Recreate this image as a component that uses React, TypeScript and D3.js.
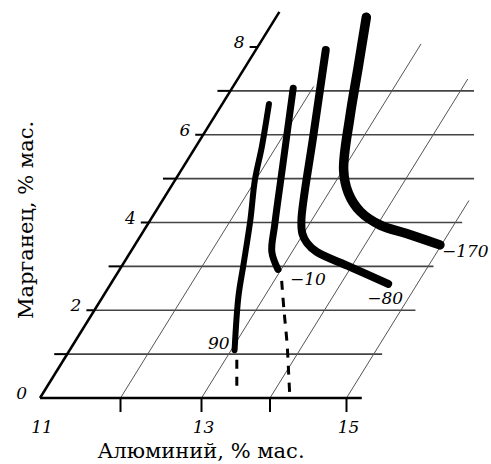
import React from "react";
import * as d3 from "d3";

// oblique Al–Mn diagram, isotherms in °C
const alTicks = [11, 12, 13, 14, 15];
const alLabels = [11, 13, 15];
const mnTicks = [0, 1, 2, 3, 4, 5, 6, 7, 8];
const mnLabels = [0, 2, 4, 6, 8];

// right end (Al) of each horizontal grid line, Mn = 1..7
const gridMn = [1, 2, 3, 4, 5, 6, 7];
const gridEndAl = [15.11, 15.19, 15.07, 15.09, 15.1, 15.1, 15.1];
// top end (Mn) of each slanted grid line, Al = 12..15
const slantAl = [12, 13, 14, 15];
const slantTopMn = [7.1, 8.07, 7.27, 4.5];

const iso90Al = [13.05, 12.68, 12.49, 12.24, 11.99, 11.82, 11.58];
const iso90Mn = [1.09, 2.31, 3.07, 4.06, 4.97, 5.73, 6.7];
const iso90DashAl = [13.17, 13.46];
const iso90DashMn = [0.87, 0.14];

const iso10Al = [12.96, 12.75, 12.58, 12.21, 11.91, 11.76];
const iso10Mn = [2.93, 3.33, 3.94, 5.35, 6.49, 7.06];
const iso10DashAl = [13.11, 13.41, 13.77, 14.06, 14.26];
const iso10DashMn = [2.67, 2.0, 1.21, 0.52, 0.0];

const iso80Al = [11.87, 12.37, 12.87, 12.99, 13.14, 13.36, 13.98, 14.62];
const iso80Mn = [7.93, 5.99, 4.06, 3.74, 3.53, 3.33, 2.99, 2.6];

const iso170Al = [12.12, 12.4, 12.68, 13.01, 13.29, 13.63, 14.04, 14.45, 14.98];
const iso170Mn = [8.68, 7.55, 6.41, 5.2, 4.67, 4.25, 3.94, 3.75, 3.49];

const W = 491;
const H = 464;
const SLANT = 0.62;
const FONT = "'DejaVu Serif', 'Liberation Serif', serif";

const xs = d3.scaleLinear().domain([11, 12, 13, 14, 15]).range([40, 120.5, 201.5, 270, 346.5]);
const ys = d3.scaleLinear().domain([0, 8]).range([398, 47]);

const px = (al: number, mn: number) => xs(al) + (ys(0) - ys(mn)) * SLANT;
const py = (mn: number) => ys(mn);

const zip = (a: number[], m: number[]) => a.map((v, i) => [v, m[i]] as [number, number]);

const line = d3
  .line<[number, number]>()
  .x((d) => px(d[0], d[1]))
  .y((d) => py(d[1]))
  .curve(d3.curveCatmullRom.alpha(0.5));

const straight = d3
  .line<[number, number]>()
  .x((d) => px(d[0], d[1]))
  .y((d) => py(d[1]));

export default function App() {
  const isotherms = [
    { pts: zip(iso90Al, iso90Mn), w: 6 },
    { pts: zip(iso10Al, iso10Mn), w: 7 },
    { pts: zip(iso80Al, iso80Mn), w: 8 },
    { pts: zip(iso170Al, iso170Mn), w: 9.5 },
  ];
  const end90 = [px(iso90Al[0], iso90Mn[0]), py(iso90Mn[0])];
  const end10 = [px(iso10Al[0], iso10Mn[0]), py(iso10Mn[0])];
  const end80 = [px(iso80Al[7], iso80Mn[7]), py(iso80Mn[7])];
  const end170 = [px(iso170Al[8], iso170Mn[8]), py(iso170Mn[8])];

  return (
    <svg width={W} height={H} style={{ position: "absolute", left: 0, top: 0, background: "#fff" }}>
      <defs>
        <clipPath id="clip">
          <rect x={0} y={0} width={474} height={H} />
        </clipPath>
      </defs>

      <g clipPath="url(#clip)">
        {gridMn.map((m, i) => (
          <line
            key={"h" + m}
            x1={px(11, m)}
            x2={px(gridEndAl[i], m)}
            y1={py(m)}
            y2={py(m)}
            stroke="#444"
            strokeWidth={1.6}
          />
        ))}
        {slantAl.map((a, i) => (
          <line
            key={"s" + a}
            x1={px(a, 0)}
            y1={py(0)}
            x2={px(a, slantTopMn[i])}
            y2={py(slantTopMn[i])}
            stroke="#555"
            strokeWidth={1}
          />
        ))}
      </g>

      {/* axes */}
      <line x1={px(11, 0)} y1={py(0)} x2={px(15.2, 0)} y2={py(0)} stroke="#000" strokeWidth={2.5} />
      <line x1={px(11, 0)} y1={py(0)} x2={px(11, 8.8)} y2={py(8.8)} stroke="#000" strokeWidth={2.5} />

      {alTicks.slice(1).map((a) => (
        <line key={"xt" + a} x1={xs(a)} x2={xs(a)} y1={ys(0)} y2={ys(0) + 14} stroke="#000" strokeWidth={2} />
      ))}
      {alLabels.map((a) => (
        <text
          key={"xl" + a}
          x={xs(a) + 2}
          y={ys(0) + 35}
          textAnchor="middle"
          fontFamily={FONT}
          fontStyle="italic"
          fontSize={17}
        >
          {a}
        </text>
      ))}

      {mnTicks.slice(1).map((m) => (
        <line
          key={"yt" + m}
          x1={px(11, m) - (m % 2 ? 13 : 8)}
          x2={px(11, m)}
          y1={py(m)}
          y2={py(m)}
          stroke="#000"
          strokeWidth={2}
        />
      ))}
      {mnLabels.map((m) => (
        <text
          key={"yl" + m}
          x={px(11, m) - 13}
          y={py(m) + 1}
          textAnchor="end"
          fontFamily={FONT}
          fontStyle="italic"
          fontSize={17}
        >
          {m}
        </text>
      ))}

      {/* isotherms */}
      {isotherms.map((c, i) => (
        <path
          key={"c" + i}
          d={line(c.pts) || ""}
          fill="none"
          stroke="#000"
          strokeWidth={c.w}
          strokeLinecap="round"
          strokeLinejoin="round"
        />
      ))}
      <path
        d={straight(zip(iso90DashAl, iso90DashMn)) || ""}
        fill="none"
        stroke="#000"
        strokeWidth={3}
        strokeDasharray="9,8"
      />
      <path
        d={line(zip(iso10DashAl, iso10DashMn)) || ""}
        fill="none"
        stroke="#000"
        strokeWidth={3}
        strokeDasharray="9,8"
      />

      <g fontFamily={FONT} fontStyle="italic" fontSize={17}>
        <text x={end90[0] - 5} y={end90[1] - 1} textAnchor="end">90</text>
        <text x={end10[0] + 12} y={end10[1] + 16}>−10</text>
        <text x={end80[0] - 3} y={end80[1] + 20} textAnchor="middle">−80</text>
        <text x={end170[0] + 2} y={end170[1] + 12}>−170</text>
      </g>

      <text x={201} y={458} textAnchor="middle" fontFamily={FONT} fontSize={21}>
        Алюминий, % мас.
      </text>
      <text
        transform="translate(33,220) rotate(-90)"
        textAnchor="middle"
        fontFamily={FONT}
        fontSize={21}
      >
        Марганец, % мас.
      </text>
    </svg>
  );
}
